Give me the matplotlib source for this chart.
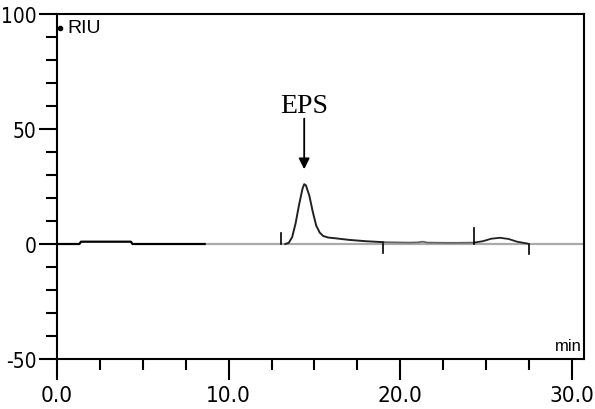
import matplotlib
matplotlib.use('Agg')
import matplotlib.pyplot as plt
from matplotlib.ticker import MultipleLocator, FuncFormatter

# trace pieces (min, RIU)
pre_t = [0, 1.3, 1.4, 4.3, 4.4, 8.6]
pre_s = [0, 0, 1, 1, 0, 0]
eps_t = [13.3, 13.5, 13.7, 13.9, 14.1, 14.3, 14.4, 14.5, 14.7, 14.9, 15.1,
         15.3, 15.5, 15.8, 16.2, 17.0, 18.0, 19.0]
eps_s = [0, 0.5, 3, 9, 17, 24, 26, 25.5, 21, 14, 8, 5, 3.5, 2.8, 2.5, 1.8, 1.2, 0.8]
mid_t = [19.0, 20.5, 21.0, 21.3, 21.6, 23.0, 24.3]
mid_s = [0.8, 0.6, 0.7, 1.0, 0.6, 0.5, 0.6]
p2_t = [24.3, 24.8, 25.3, 25.8, 26.3, 26.8, 27.4]
p2_s = [0.6, 1.2, 2.3, 2.7, 2.2, 1.0, 0.2]
base_t = [8.6, 30.7]
base_s = [0, 0]
# integration markers (time, height)
mark_t = [13.07, 18.97, 24.27, 27.5]
mark_h = [5, -4, 7, -4.5]

eps_label = 'EPS'
eps_time = 14.4

fig = plt.figure(figsize=(5.95, 4.1), dpi=100)
ax = fig.add_axes([57/595, 50/410, 527/595, 345/410])

ax.plot(base_t, base_s, color='#aaaaaa', lw=1.6)
ax.plot(pre_t, pre_s, color='black', lw=1.6)
ax.plot(mid_t, mid_s, color='#666666', lw=1.3)
ax.plot(eps_t, eps_s, color='#222222', lw=1.4)
ax.plot(p2_t, p2_s, color='#222222', lw=1.3)
for t, h in zip(mark_t, mark_h):
    ax.plot([t, t], [0, h], color='black', lw=1.2)

ax.set_xlim(0, 30.7)
ax.set_ylim(-50, 100)
ax.xaxis.set_major_locator(MultipleLocator(10))
ax.xaxis.set_minor_locator(MultipleLocator(2.5))
ax.yaxis.set_major_locator(MultipleLocator(50))
ax.yaxis.set_minor_locator(MultipleLocator(10))
ax.xaxis.set_major_formatter(FuncFormatter(lambda v, p: '%.1f' % v))
ax.yaxis.set_major_formatter(FuncFormatter(lambda v, p: '%d' % v))
ax.tick_params(axis='both', which='both', direction='out', width=1.5)
ax.tick_params(axis='y', which='major', length=13, pad=2)
ax.tick_params(axis='y', which='minor', length=8)
ax.tick_params(axis='x', which='major', length=15, pad=4)
ax.tick_params(axis='x', which='minor', length=8)
tick_font = ['DejaVu Sans', 'Liberation Sans']
for lab in ax.get_xticklabels() + ax.get_yticklabels():
    lab.set_family(tick_font)
    lab.set_stretch('condensed')
    lab.set_fontsize(16)
for lab in ax.get_yticklabels():
    lab.set_fontsize(15)
for sp in ax.spines.values():
    sp.set_linewidth(1.5)

ax.plot([0.15], [94], 'o', color='black', ms=3, clip_on=False)
ax.text(0.6, 94, 'RIU', family='Liberation Sans', fontsize=14, va='center', ha='left')
ax.text(30.6, -47.5, 'min', family='Liberation Sans', fontsize=12, va='bottom', ha='right')

ax.annotate('', xy=(eps_time, 32.5), xytext=(eps_time, 54.5),
            arrowprops=dict(arrowstyle='-|>', color='black', lw=1.3,
                            mutation_scale=16, shrinkA=0, shrinkB=0))
ax.text(eps_time, 57.5, eps_label, family='Liberation Serif', fontsize=20,
        ha='center', va='baseline')

plt.savefig('out.png', dpi=100)
plt.close()
